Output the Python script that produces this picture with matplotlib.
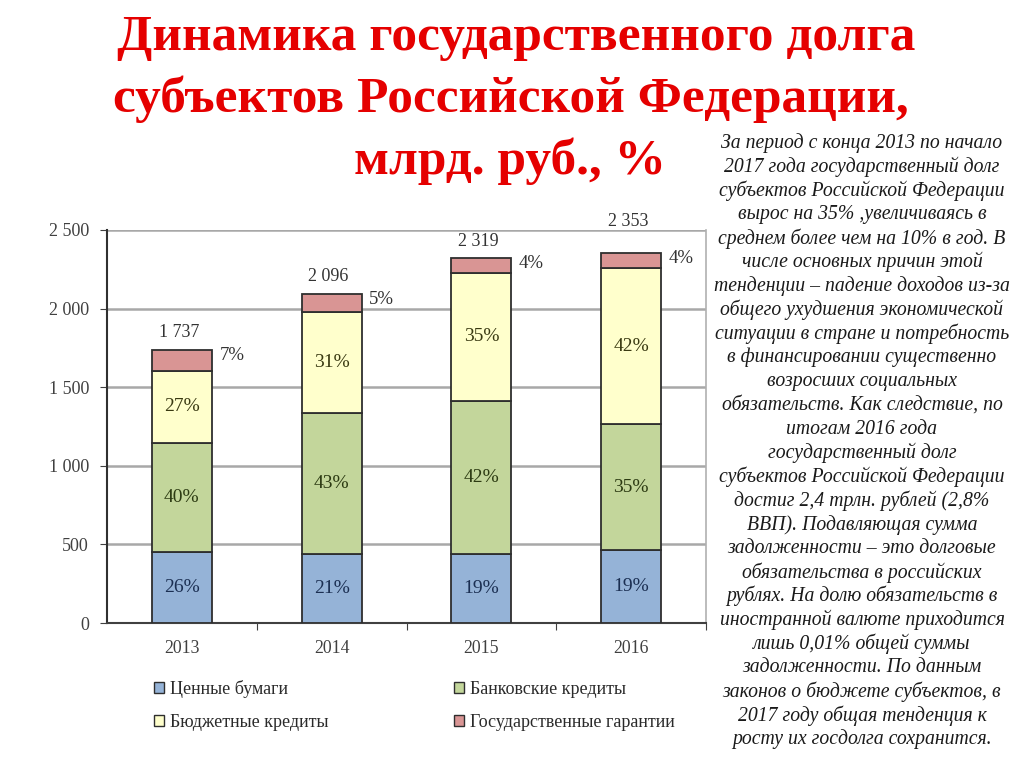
import matplotlib
matplotlib.use("Agg")
import matplotlib.pyplot as plt
from matplotlib.patches import Patch

years = ["2013", "2014", "2015", "2016"]
securities = [451, 439, 439, 462]
bank_credits = [697, 900, 976, 805]
budget_credits = [458, 642, 810, 989]
guarantees = [131, 115, 94, 97]
totals = [1737, 2096, 2319, 2353]
pct_securities = ["26%", "21%", "19%", "19%"]
pct_bank = ["40%", "43%", "42%", "35%"]
pct_budget = ["27%", "31%", "35%", "42%"]
pct_guar = ["7%", "5%", "4%", "4%"]
series_names = ["Ценные бумаги", "Банковские кредиты", "Бюджетные кредиты", "Государственные гарантии"]
yticks = [0, 500, 1000, 1500, 2000, 2500]
ytick_labels = ["0", "500", "1 000", "1 500", "2 000", "2 500"]

title_lines = ["Динамика государственного долга",
               "субъектов Российской Федерации,",
               "млрд. руб., %"]

side_text = [
    "За период с конца 2013 по начало",
    "2017 года государственный долг",
    "субъектов Российской Федерации",
    "вырос на 35% ,увеличиваясь в",
    "среднем более чем на 10% в год. В",
    "числе основных причин этой",
    "тенденции – падение доходов из-за",
    "общего ухудшения экономической",
    "ситуации в стране и потребность",
    "в финансировании существенно",
    "возросших социальных",
    "обязательств. Как следствие, по",
    "итогам 2016 года",
    "государственный долг",
    "субъектов Российской Федерации",
    "достиг 2,4 трлн. рублей (2,8%",
    "ВВП). Подавляющая сумма",
    "задолженности – это долговые",
    "обязательства в российских",
    "рублях. На долю обязательств в",
    "иностранной валюте приходится",
    "лишь 0,01% общей суммы",
    "задолженности. По данным",
    "законов о бюджете субъектов, в",
    "2017 году общая тенденция к",
    "росту их госдолга сохранится.",
]

SERIF = ["Liberation Serif", "DejaVu Serif"]
plt.rcParams["font.family"] = SERIF

W, H = 1024, 767
fig = plt.figure(figsize=(W / 100, H / 100), dpi=100)
fig.patch.set_facecolor("white")

ax = fig.add_axes([107 / W, 1 - 623 / H, (706 - 107) / W, (623 - 230) / H])
ax.set_xlim(-0.5, 3.5)
ax.set_ylim(0, 2500)

colors = ["#95b3d7", "#c3d69b", "#ffffcc", "#d99594"]
edge = "#2e2e2e"
x = list(range(len(years)))
w = 0.4
series = [securities, bank_credits, budget_credits, guarantees]
bottoms = [0] * len(years)
label_colors = ["#1b2f52", "#2c3a12", "#3a3a12"]
pct_lists = [pct_securities, pct_bank, pct_budget]
for k, (vals, c) in enumerate(zip(series, colors)):
    ax.bar(x, vals, w, bottom=bottoms, color=c, edgecolor=edge, lw=1.3, zorder=3)
    for i in range(len(years)):
        mid = bottoms[i] + vals[i] / 2
        if k < 3:
            ax.text(x[i], mid, pct_lists[k][i], ha="center", va="center",
                    fontsize=14, color=label_colors[k], zorder=4)
        else:
            ax.text(x[i] + w / 2 + 0.05, bottoms[i] + vals[i] - 35, pct_guar[i],
                    ha="left", va="center", fontsize=13.5, color="#333333", zorder=4)
    bottoms = [b + v for b, v in zip(bottoms, vals)]

for i, t in enumerate(totals):
    ty = t + 110 if t + 110 < 2440 else 2555
    ax.text(x[i] - 0.02, ty, f"{t:,}".replace(",", " "), ha="center", va="center",
            fontsize=13, color="#333333", clip_on=False)

ax.set_yticks(yticks)
ax.set_yticklabels(ytick_labels, fontsize=13, color="#404040")
ax.yaxis.grid(True, color="#a8a8a8", lw=1.8, zorder=0)
ax.set_axisbelow(True)
ax.set_xticks([0.5, 1.5, 2.5, 3.5])
ax.set_xticklabels([])
ax.set_xticks(x, minor=True)
ax.set_xticklabels(years, minor=True, fontsize=12.8, color="#404040")
ax.tick_params(axis="x", which="minor", length=0, pad=12)
ax.tick_params(axis="x", which="major", length=5, color="#404040")
ax.tick_params(axis="y", length=5, color="#404040", pad=8)
ax.spines["top"].set_visible(False)
ax.spines["right"].set_color("#b0b0b0")
ax.spines["right"].set_linewidth(1.2)
ax.spines["left"].set_color("#303030")
ax.spines["bottom"].set_color("#404040")
ax.spines["left"].set_linewidth(1.5)
ax.spines["bottom"].set_linewidth(1.5)

handles = [Patch(facecolor=c, edgecolor=edge, lw=1.0) for c in colors]
order = [0, 2, 1, 3]
fig.legend([handles[i] for i in order], [series_names[i] for i in order],
           ncol=2, loc="upper left", bbox_to_anchor=(138 / W, 1 - 664 / H),
           frameon=False, fontsize=13, handlelength=0.55, handleheight=0.55,
           handletextpad=0.35, columnspacing=6.9, labelspacing=0.85,
           labelcolor="#2a2a2a")

# title
title_base = [50, 112, 174]
title_x = [516, 511, 510]
for t, yy, xx in zip(title_lines, title_base, title_x):
    fig.text(xx / W, 1 - yy / H, t, ha="center", va="baseline", fontsize=37,
             fontweight="bold", color="#e50000")

# side text
for i, line in enumerate(side_text):
    yy = 143 + i * 23.85
    fig.text(862 / W, 1 - yy / H, line, ha="center", va="center", fontsize=14.2,
             style="italic", color="#1a1a1a")

fig.savefig("out.png", dpi=100)
